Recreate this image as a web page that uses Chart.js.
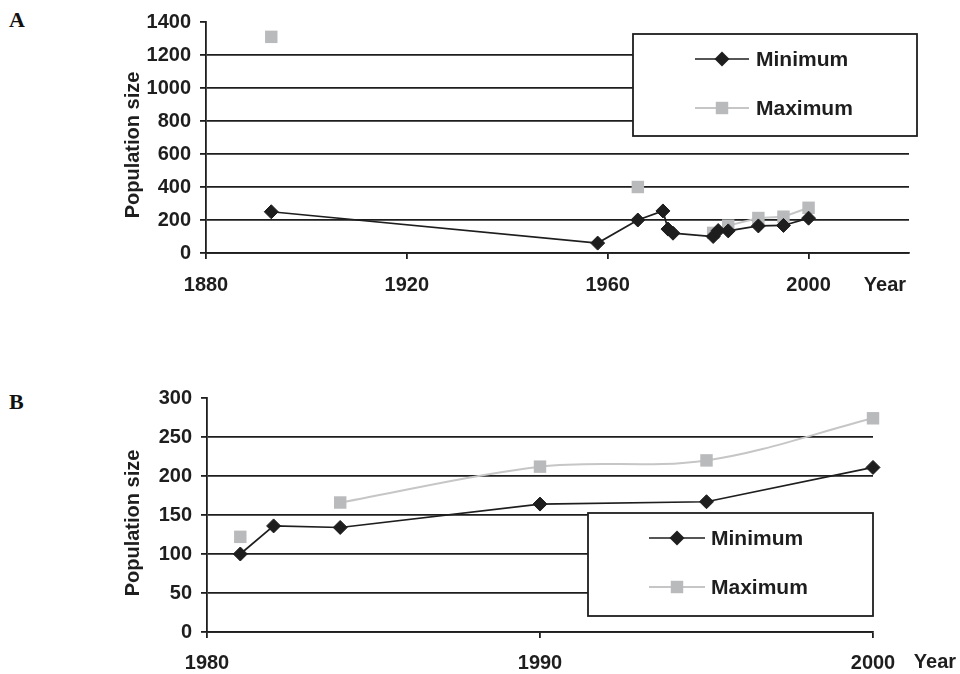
<!DOCTYPE html>
<html><head><meta charset="utf-8">
<script src="https://cdn.jsdelivr.net/npm/chart.js@4"></script>
<style>
html,body{margin:0;padding:0;background:#fff;}
body{width:960px;height:674px;position:relative;overflow:hidden;font-family:"Liberation Sans",Arial,sans-serif;}
.panel{position:absolute;left:0;width:960px;}
#wrapA{top:0;height:320px;}
#wrapB{top:360px;height:314px;}
.letter{position:absolute;font-family:"Liberation Serif","Times New Roman",serif;font-weight:bold;font-size:22px;color:#111;line-height:1;}
</style></head><body>
<div class="letter" style="left:9px;top:9px">A</div>
<div class="letter" style="left:9px;top:391px">B</div>
<div class="panel" id="wrapA"><canvas id="chartA" width="960" height="320"></canvas></div>
<div class="panel" id="wrapB"><canvas id="chartB" width="960" height="314"></canvas></div>
<script>
// ---- data ----
const yearsA = [1893, 1958, 1966, 1971, 1972, 1973, 1981, 1982, 1984, 1990, 1995, 2000];
const minimumA = [250, 60, 200, 255, 145, 120, 100, 136, 134, 164, 167, 211];
const maximumA = [1310, null, 400, null, null, null, 122, null, 166, 212, 220, 274];
const yearsB = [1981, 1982, 1984, 1990, 1995, 2000];
const minimumB = [100, 136, 134, 164, 167, 211];
const maximumB = [122, null, 166, 212, 220, 274];
const xTicksA = [1880, 1920, 1960, 2000];
const yTicksA = [0, 200, 400, 600, 800, 1000, 1200, 1400];
const xTicksB = [1980, 1990, 2000];
const yTicksB = [0, 50, 100, 150, 200, 250, 300];
const seriesNames = ['Minimum', 'Maximum'];
const axisTitle = 'Population size';
const xAxisName = 'Year';

// ---- styling ----
const FAMILY = '"Liberation Sans", Arial, Helvetica, sans-serif';
const INK = '#1e1e1e';
const GREY_PT = '#b9babc';
const GREY_LN = '#c6c6c6';

const boxLegend = {
  id: 'boxLegend',
  afterDraw(chart, args, o) {
    const ctx = chart.ctx;
    ctx.save();
    ctx.fillStyle = '#fff';
    ctx.strokeStyle = INK;
    ctx.lineWidth = 1.8;
    ctx.fillRect(o.x1, o.y1, o.x2 - o.x1, o.y2 - o.y1);
    ctx.strokeRect(o.x1, o.y1, o.x2 - o.x1, o.y2 - o.y1);
    chart.data.datasets.forEach((ds, i) => {
      const y = o.rows[i];
      ctx.strokeStyle = ds.borderColor;
      ctx.lineWidth = ds.borderWidth;
      ctx.beginPath(); ctx.moveTo(o.lx1, y); ctx.lineTo(o.lx2, y); ctx.stroke();
      const cx = (o.lx1 + o.lx2) / 2;
      ctx.fillStyle = ds.pointBackgroundColor;
      ctx.beginPath();
      if (ds.pointStyle === 'rectRot') {
        const r = ds.pointRadius + 0.5;
        ctx.moveTo(cx, y - r); ctx.lineTo(cx + r, y); ctx.lineTo(cx, y + r); ctx.lineTo(cx - r, y); ctx.closePath();
      } else {
        const s = ds.pointRadius * Math.SQRT1_2;
        ctx.rect(cx - s, y - s, 2 * s, 2 * s);
      }
      ctx.fill();
      ctx.fillStyle = INK;
      ctx.font = 'bold 21px ' + FAMILY;
      ctx.textBaseline = 'middle';
      ctx.textAlign = 'left';
      ctx.fillText(ds.label, o.tx, y + 1);
    });
    ctx.restore();
  }
};

const axisTexts = {
  id: 'axisTexts',
  afterDraw(chart, args, o) {
    const ctx = chart.ctx;
    ctx.save();
    ctx.fillStyle = INK;
    ctx.font = 'bold 20px ' + FAMILY;
    ctx.textBaseline = 'middle';
    ctx.textAlign = 'center';
    ctx.fillText(xAxisName, o.yearX, o.yearY);
    ctx.translate(o.titleX, o.titleY);
    ctx.rotate(-Math.PI / 2);
    ctx.fillText(axisTitle, 0, 0);
    ctx.restore();
  }
};

function makeChart(id, c) {
  const font = {family: FAMILY, size: 20, weight: 'bold'};
  return new Chart(document.getElementById(id), {
    type: 'line',
    data: {
      datasets: [
        {
          label: seriesNames[0],
          data: c.years.map((x, i) => ({x, y: c.mins[i]})),
          borderColor: INK, backgroundColor: INK,
          pointBackgroundColor: INK, pointBorderColor: INK,
          borderWidth: 1.7, pointStyle: 'rectRot', pointRadius: 7, pointBorderWidth: 1,
          tension: 0, spanGaps: false, order: 1, clip: false
        },
        {
          label: seriesNames[1],
          data: c.years.map((x, i) => ({x, y: c.maxs[i]})),
          borderColor: GREY_LN, backgroundColor: GREY_PT,
          pointBackgroundColor: GREY_PT, pointBorderColor: GREY_PT,
          borderWidth: 2, pointStyle: 'rect', pointRadius: 8.8, pointBorderWidth: 0,
          tension: c.tension, spanGaps: false, order: 2, clip: false
        }
      ]
    },
    options: {
      responsive: false,
      animation: false,
      devicePixelRatio: 1,
      layout: {padding: {left: 0, top: c.top, right: c.right, bottom: 0}},
      plugins: {
        legend: {display: false},
        tooltip: {enabled: false},
        boxLegend: c.legend,
        axisTexts: c.texts
      },
      scales: {
        x: {
          type: 'linear', min: c.xMin, max: c.xMax,
          afterBuildTicks: s => { s.ticks = c.xTicks.map(v => ({value: v})); },
          afterFit: s => { s.height = c.xHeight; },
          grid: {drawOnChartArea: false, drawTicks: true, tickLength: 6, color: INK, lineWidth: 1.8},
          border: {color: INK, width: 1.8},
          ticks: {color: INK, font, padding: c.xPad, maxRotation: 0, autoSkip: false, callback: v => String(v)}
        },
        y: {
          type: 'linear', min: 0, max: c.yMax,
          afterBuildTicks: s => { s.ticks = c.yTicks.map(v => ({value: v})); },
          afterFit: s => { s.width = c.left; },
          grid: {
            color: ctx => (ctx.tick && ctx.tick.value === c.yMax) ? 'rgba(0,0,0,0)' : INK,
            tickColor: INK, lineWidth: 1.8, tickLength: 6, drawTicks: true
          },
          border: {color: INK, width: 1.8},
          ticks: {color: INK, font, padding: 9, autoSkip: false, callback: v => String(v)}
        }
      }
    },
    plugins: [boxLegend, axisTexts]
  });
}

makeChart('chartA', {
  years: yearsA, mins: minimumA, maxs: maximumA,
  xMin: 1880, xMax: 2020, xTicks: xTicksA, yMax: 1400, yTicks: yTicksA,
  top: 22, right: 51, left: 206, xHeight: 67, xPad: 14, tension: 0,
  legend: {x1: 633, y1: 34, x2: 917, y2: 136, rows: [59, 108], lx1: 695, lx2: 749, tx: 756},
  texts: {yearX: 885, yearY: 285.5, titleX: 133, titleY: 145}
});

makeChart('chartB', {
  years: yearsB, mins: minimumB, maxs: maximumB,
  xMin: 1980, xMax: 2000, xTicks: xTicksB, yMax: 300, yTicks: yTicksB,
  top: 38, right: 87, left: 207, xHeight: 42, xPad: 13, tension: 0.35,
  legend: {x1: 588, y1: 153, x2: 873, y2: 256, rows: [178, 227], lx1: 649, lx2: 705, tx: 711},
  texts: {yearX: 935, yearY: 302.5, titleX: 133, titleY: 163}
});
</script>
</body></html>
